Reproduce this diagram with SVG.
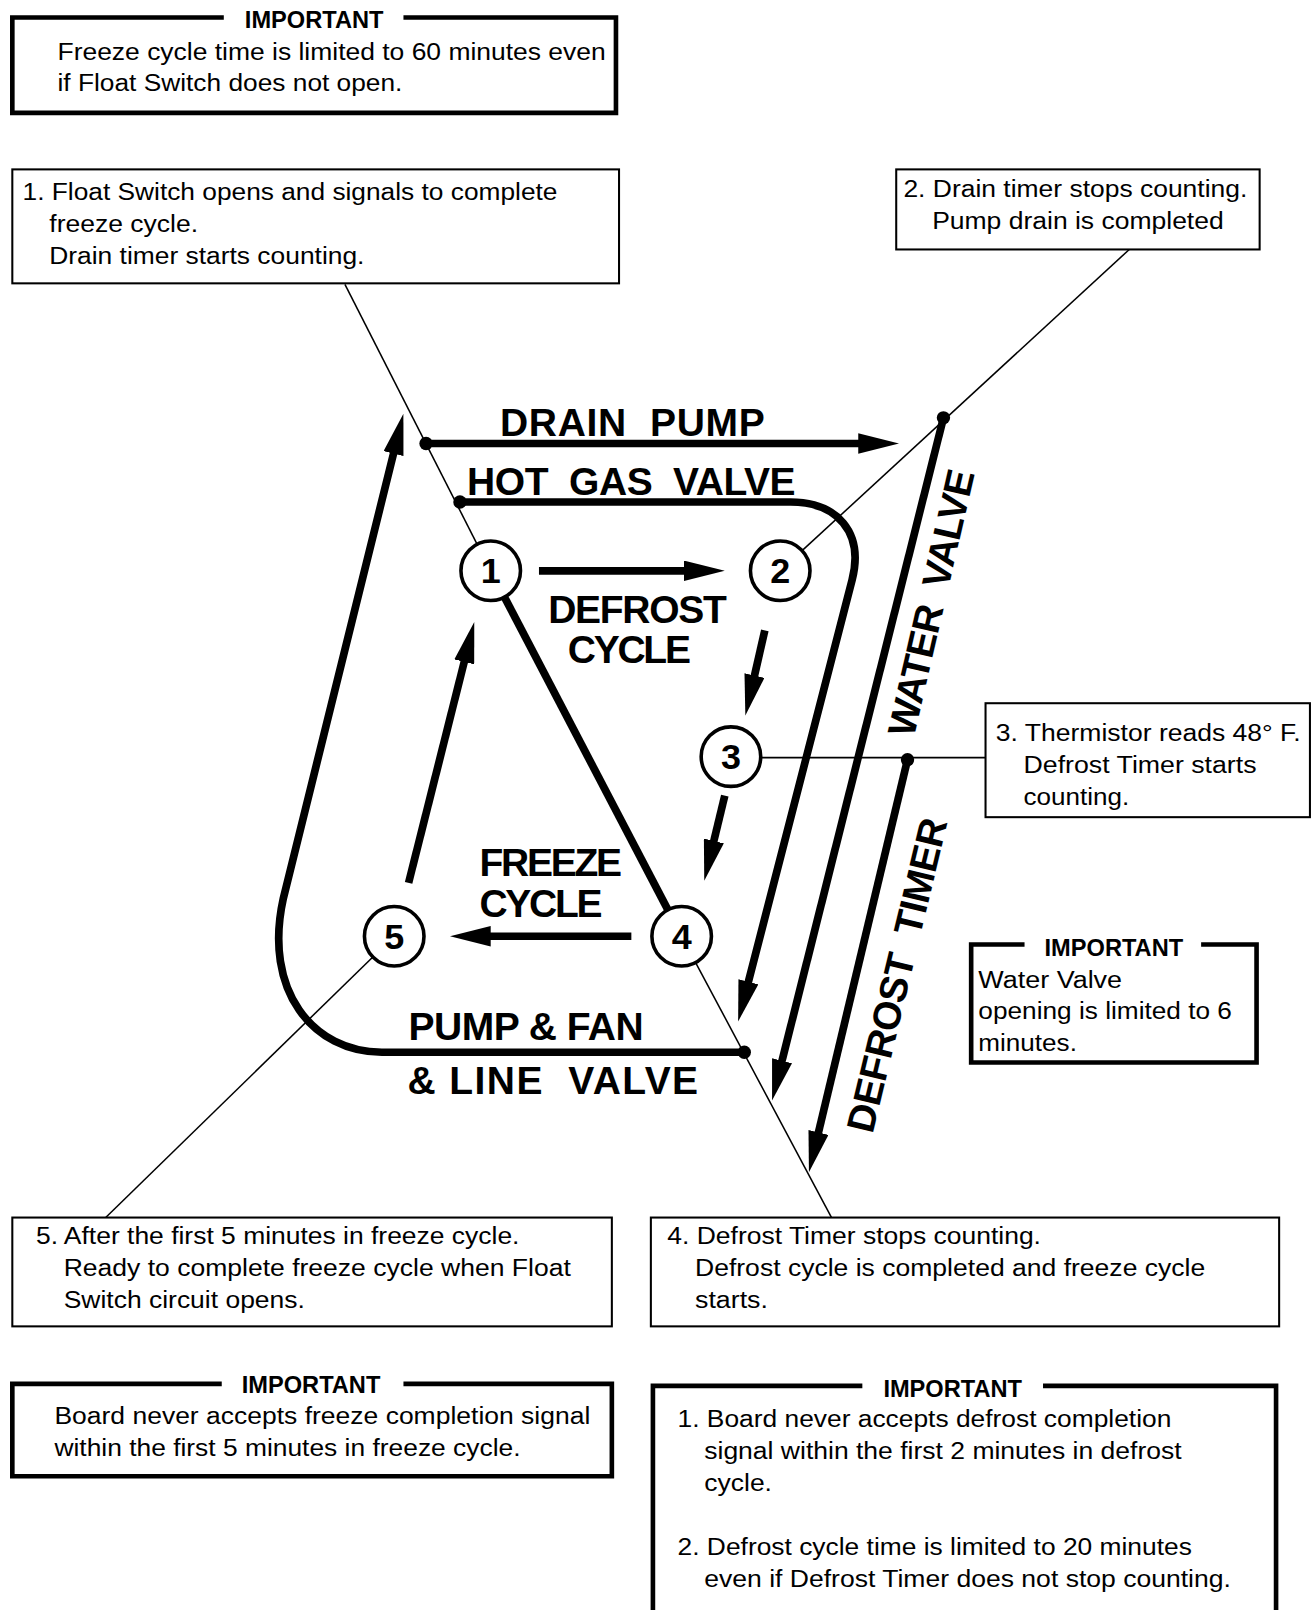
<svg xmlns="http://www.w3.org/2000/svg" width="1314" height="1610" viewBox="0 0 1314 1610">
<style>
.body{font-family:"Liberation Sans",Arial,sans-serif;font-size:24px;fill:#000}
.title{font-family:"Liberation Sans",Arial,sans-serif;font-size:23px;font-weight:bold;fill:#000;text-anchor:middle}
.big{font-family:"Liberation Sans",Arial,sans-serif;font-size:38px;font-weight:bold;fill:#000}
.num{font-family:"Liberation Sans",Arial,sans-serif;font-size:35px;font-weight:bold;fill:#000;text-anchor:middle}
.box{fill:#fff;stroke:#000;stroke-width:2}
.imp{fill:none;stroke:#000;stroke-width:4.5}
.thick{fill:none;stroke:#000;stroke-width:7.5}
.thin{fill:none;stroke:#000;stroke-width:1.5}
.circ{fill:#fff;stroke:#000;stroke-width:3.5}
.dot{fill:#000}
</style>
<defs>
<marker id="ah" viewBox="0 0 40 20" refX="2" refY="10" markerWidth="40" markerHeight="20" markerUnits="userSpaceOnUse" orient="auto">
<path d="M0,0 L40,10 L0,20 z" fill="#000"/>
</marker>
</defs>
<rect width="1314" height="1610" fill="#fff"/>
<g transform="scale(1.0266)">

<g id="connectors">
<line class="thin" x1="336" y1="277" x2="464.8" y2="530.2"/>
<line class="thin" x1="1100" y1="243" x2="781.3" y2="536.4"/>
<line class="thin" x1="741" y1="738" x2="960" y2="738"/>
<line class="thin" x1="677.6" y1="937.6" x2="810" y2="1186"/>
<line class="thin" x1="363.2" y1="932.2" x2="103" y2="1186"/>

<line class="thick" x1="525" y1="556" x2="668" y2="556" marker-end="url(#ah)"/>
<line class="thick" x1="745" y1="614" x2="734.5" y2="660" marker-end="url(#ah)"/>
<line class="thick" x1="706" y1="775" x2="694.9" y2="821.1" marker-end="url(#ah)"/>
<line class="thick" x1="615" y1="912" x2="476" y2="912" marker-end="url(#ah)"/>
<line class="thick" x1="398" y1="860" x2="452.7" y2="642.8" marker-end="url(#ah)"/>
<line class="thick" x1="491.4" y1="581.7" x2="650.6" y2="886.3"/>

<line class="thick" x1="415" y1="432" x2="838" y2="432" marker-end="url(#ah)"/>
<path class="thick" d="M448,489 H770 C815,489 842,518 830,565 L728.5,958.2" marker-end="url(#ah)"/>
<line class="thick" x1="919" y1="407" x2="761.3" y2="1035.1" marker-end="url(#ah)"/>
<line class="thick" x1="884" y1="740" x2="796.8" y2="1105" marker-end="url(#ah)"/>
<path class="thick" d="M725,1025 H372 C305,1025 256,965 276,875 L383.8,439.9" marker-end="url(#ah)"/>

<circle class="dot" cx="415" cy="432" r="6.5"/>
<circle class="dot" cx="448" cy="489" r="6.5"/>
<circle class="dot" cx="919" cy="407" r="6.5"/>
<circle class="dot" cx="884" cy="740" r="6.5"/>
<circle class="dot" cx="725" cy="1025" r="6.5"/>

<text class="big" xml:space="preserve" x="487" y="425" textLength="258" lengthAdjust="spacing">DRAIN  PUMP</text>
<text class="big" xml:space="preserve" x="455" y="482" textLength="320" lengthAdjust="spacing">HOT  GAS  VALVE</text>
<text class="big" x="534" y="607" textLength="174" lengthAdjust="spacing">DEFROST</text>
<text class="big" x="553" y="646" textLength="120" lengthAdjust="spacing">CYCLE</text>
<text class="big" x="467" y="853" textLength="139" lengthAdjust="spacing">FREEZE</text>
<text class="big" x="467" y="893" textLength="120" lengthAdjust="spacing">CYCLE</text>
<text class="big" x="398" y="1013" textLength="229" lengthAdjust="spacing">PUMP &amp; FAN</text>
<text class="big" xml:space="preserve" x="397" y="1066" textLength="283" lengthAdjust="spacing">&amp; LINE  VALVE</text>
<text class="big" xml:space="preserve" transform="translate(890,719) rotate(-77)" x="0" y="0" textLength="265" lengthAdjust="spacing">WATER  VALVE</text>
<text class="big" xml:space="preserve" transform="translate(850,1105) rotate(-76.5)" x="0" y="0" textLength="313" lengthAdjust="spacing">DEFROST  TIMER</text>
</g>

<g id="node1"><circle class="circ" cx="478" cy="556" r="29"/><text class="num" x="478" y="568">1</text></g>
<g id="node2"><circle class="circ" cx="760" cy="556" r="29"/><text class="num" x="760" y="568">2</text></g>
<g id="node3"><circle class="circ" cx="712" cy="737" r="29"/><text class="num" x="712" y="749">3</text></g>
<g id="node4"><circle class="circ" cx="664" cy="912" r="29"/><text class="num" x="664" y="924">4</text></g>
<g id="node5"><circle class="circ" cx="384" cy="912" r="29"/><text class="num" x="384" y="924">5</text></g>

<g id="important-top">
<path class="imp" d="M218,17 H12 V110 H600 V17 H393"/>
<text class="title" x="306" y="27">IMPORTANT</text>
<text class="body" x="56" y="58" textLength="534" lengthAdjust="spacingAndGlyphs">Freeze cycle time is limited to 60 minutes even</text>
<text class="body" x="56" y="89" textLength="336" lengthAdjust="spacingAndGlyphs">if Float Switch does not open.</text>
</g>

<g id="box1">
<rect class="box" x="12" y="165" width="591" height="111"/>
<text class="body" x="22" y="195" textLength="521" lengthAdjust="spacingAndGlyphs">1. Float Switch opens and signals to complete</text>
<text class="body" x="48" y="226" textLength="145" lengthAdjust="spacingAndGlyphs">freeze cycle.</text>
<text class="body" x="48" y="257" textLength="307" lengthAdjust="spacingAndGlyphs">Drain timer starts counting.</text>
</g>

<g id="box2">
<rect class="box" x="873" y="165" width="354" height="78"/>
<text class="body" x="880" y="192" textLength="335" lengthAdjust="spacingAndGlyphs">2. Drain timer stops counting.</text>
<text class="body" x="908" y="223" textLength="284" lengthAdjust="spacingAndGlyphs">Pump drain is completed</text>
</g>

<g id="box3">
<rect class="box" x="960" y="685" width="316" height="111"/>
<text class="body" x="970" y="722" textLength="297" lengthAdjust="spacingAndGlyphs">3. Thermistor reads 48&#176; F.</text>
<text class="body" x="997" y="753" textLength="227" lengthAdjust="spacingAndGlyphs">Defrost Timer starts</text>
<text class="body" x="997" y="784" textLength="103" lengthAdjust="spacingAndGlyphs">counting.</text>
</g>

<g id="important-water">
<path class="imp" d="M998,920 H946 V1035 H1224 V920 H1170"/>
<text class="title" x="1085" y="931">IMPORTANT</text>
<text class="body" x="953" y="962" textLength="140" lengthAdjust="spacingAndGlyphs">Water Valve</text>
<text class="body" x="953" y="993" textLength="247" lengthAdjust="spacingAndGlyphs">opening is limited to 6</text>
<text class="body" x="953" y="1024" textLength="96" lengthAdjust="spacingAndGlyphs">minutes.</text>
</g>

<g id="box5">
<rect class="box" x="12" y="1186" width="584" height="106"/>
<text class="body" x="35" y="1212" textLength="471" lengthAdjust="spacingAndGlyphs">5. After the first 5 minutes in freeze cycle.</text>
<text class="body" x="62" y="1243" textLength="494" lengthAdjust="spacingAndGlyphs">Ready to complete freeze cycle when Float</text>
<text class="body" x="62" y="1274" textLength="235" lengthAdjust="spacingAndGlyphs">Switch circuit opens.</text>
</g>

<g id="box4">
<rect class="box" x="634" y="1186" width="612" height="106"/>
<text class="body" x="650" y="1212" textLength="364" lengthAdjust="spacingAndGlyphs">4. Defrost Timer stops counting.</text>
<text class="body" x="677" y="1243" textLength="497" lengthAdjust="spacingAndGlyphs">Defrost cycle is completed and freeze cycle</text>
<text class="body" x="677" y="1274" textLength="71" lengthAdjust="spacingAndGlyphs">starts.</text>
</g>

<g id="important-bl">
<path class="imp" d="M216,1348 H12 V1438 H596 V1348 H393"/>
<text class="title" x="303" y="1357">IMPORTANT</text>
<text class="body" x="53" y="1387" textLength="522" lengthAdjust="spacingAndGlyphs">Board never accepts freeze completion signal</text>
<text class="body" x="53" y="1418" textLength="454" lengthAdjust="spacingAndGlyphs">within the first 5 minutes in freeze cycle.</text>
</g>

<g id="important-br">
<path class="imp" d="M840,1350 H636 V1580 M1243,1580 V1350 H1016"/>
<text class="title" x="928" y="1361">IMPORTANT</text>
<text class="body" x="660" y="1390" textLength="481" lengthAdjust="spacingAndGlyphs">1. Board never accepts defrost completion</text>
<text class="body" x="686" y="1421" textLength="465" lengthAdjust="spacingAndGlyphs">signal within the first 2 minutes in defrost</text>
<text class="body" x="686" y="1452" textLength="66" lengthAdjust="spacingAndGlyphs">cycle.</text>
<text class="body" x="660" y="1515" textLength="501" lengthAdjust="spacingAndGlyphs">2. Defrost cycle time is limited to 20 minutes</text>
<text class="body" x="686" y="1546" textLength="513" lengthAdjust="spacingAndGlyphs">even if Defrost Timer does not stop counting.</text>
</g>

</g>
</svg>
